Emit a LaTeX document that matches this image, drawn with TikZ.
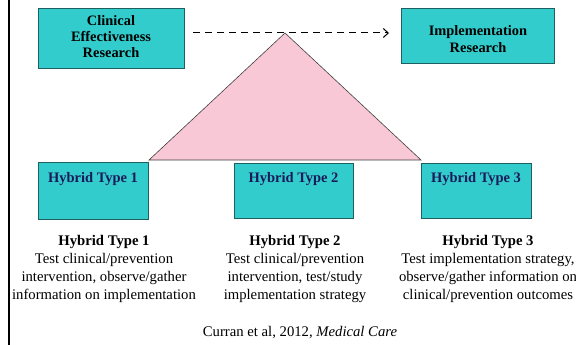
\documentclass[tikz,border=0pt]{standalone}
\usepackage{fontspec}
\setmainfont{Liberation Serif}
\usetikzlibrary{arrows.meta}
\definecolor{teal1}{HTML}{33CCCC}
\definecolor{tealb}{HTML}{1E6060}
\definecolor{pinkt}{HTML}{F9C8D7}
\definecolor{navy}{HTML}{1A1A5A}
\tikzset{
  tbox/.style={draw=tealb, fill=teal1, line width=0.8pt, inner sep=0pt},
  toptext/.style={font=\fontsize{14.4}{16.3}\selectfont\bfseries, align=center, text=black},
  htext/.style={font=\fontsize{14.5}{16}\selectfont\bfseries, text=navy, anchor=north, inner sep=0pt},
  desc/.style={font=\fontsize{14.7}{18}\selectfont, align=center, anchor=north, inner sep=0pt},
}
\begin{document}
\begin{tikzpicture}[x=1pt,y=-1pt]
\useasboundingbox (0,0) rectangle (576,345);
\draw[line width=2pt] (8.5,0) -- (8.5,345);
% top boxes
\node[tbox, minimum width=146pt, minimum height=60pt] (cer) at (111,38) {};
\node[toptext] (certxt) at (111,36.5) {Clinical\\Effectiveness\\Research};
\node[tbox, minimum width=153pt, minimum height=55pt] (ir) at (477.5,35.5) {};
\node[toptext] (irtxt) at (478,39) {Implementation\\Research};
% triangle
\coordinate (apex) at (285,33);
\coordinate (bl) at (149,160);
\coordinate (br) at (421,160);
\draw[fill=pinkt, draw=black!75, line width=0.6pt] (apex) -- (bl) -- (br) -- cycle;
% dashed arrow
\coordinate (as) at (193,33);
\coordinate (ae) at (389,33);
\draw[dashed, dash pattern=on 7pt off 5pt, line width=1pt, -{Straight Barb[length=5pt,width=9pt]}] (as) -- (ae);
% hybrid boxes
\node[tbox, minimum width=110pt, minimum height=57pt] (h1) at (93,190.5) {};
\node[tbox, minimum width=119pt, minimum height=55pt] (h2) at (293.5,190.5) {};
\node[tbox, minimum width=110pt, minimum height=55pt] (h3) at (476,190.5) {};
\node[htext] (h1t) at (93,172.5) {Hybrid Type 1};
\node[htext] (h2t) at (293.5,172.5) {Hybrid Type 2};
\node[htext] (h3t) at (476,172.5) {Hybrid Type 3};
% descriptions
\node[desc] (d1) at (104,235.5) {\textbf{Hybrid Type 1}\\Test clinical/prevention\\intervention, observe/gather\\information on implementation};
\node[desc] (d2) at (295,235.5) {\textbf{Hybrid Type 2}\\Test clinical/prevention\\intervention, test/study\\implementation strategy};
\node[desc] (d3) at (488,235.5) {\textbf{Hybrid Type 3}\\Test implementation strategy,\\observe/gather information on\\clinical/prevention outcomes};
\node[font=\fontsize{14.7}{16}\selectfont, inner sep=0pt] (cite) at (300,333) {Curran et al, 2012, \textit{Medical Care}};
\end{tikzpicture}
\end{document}
